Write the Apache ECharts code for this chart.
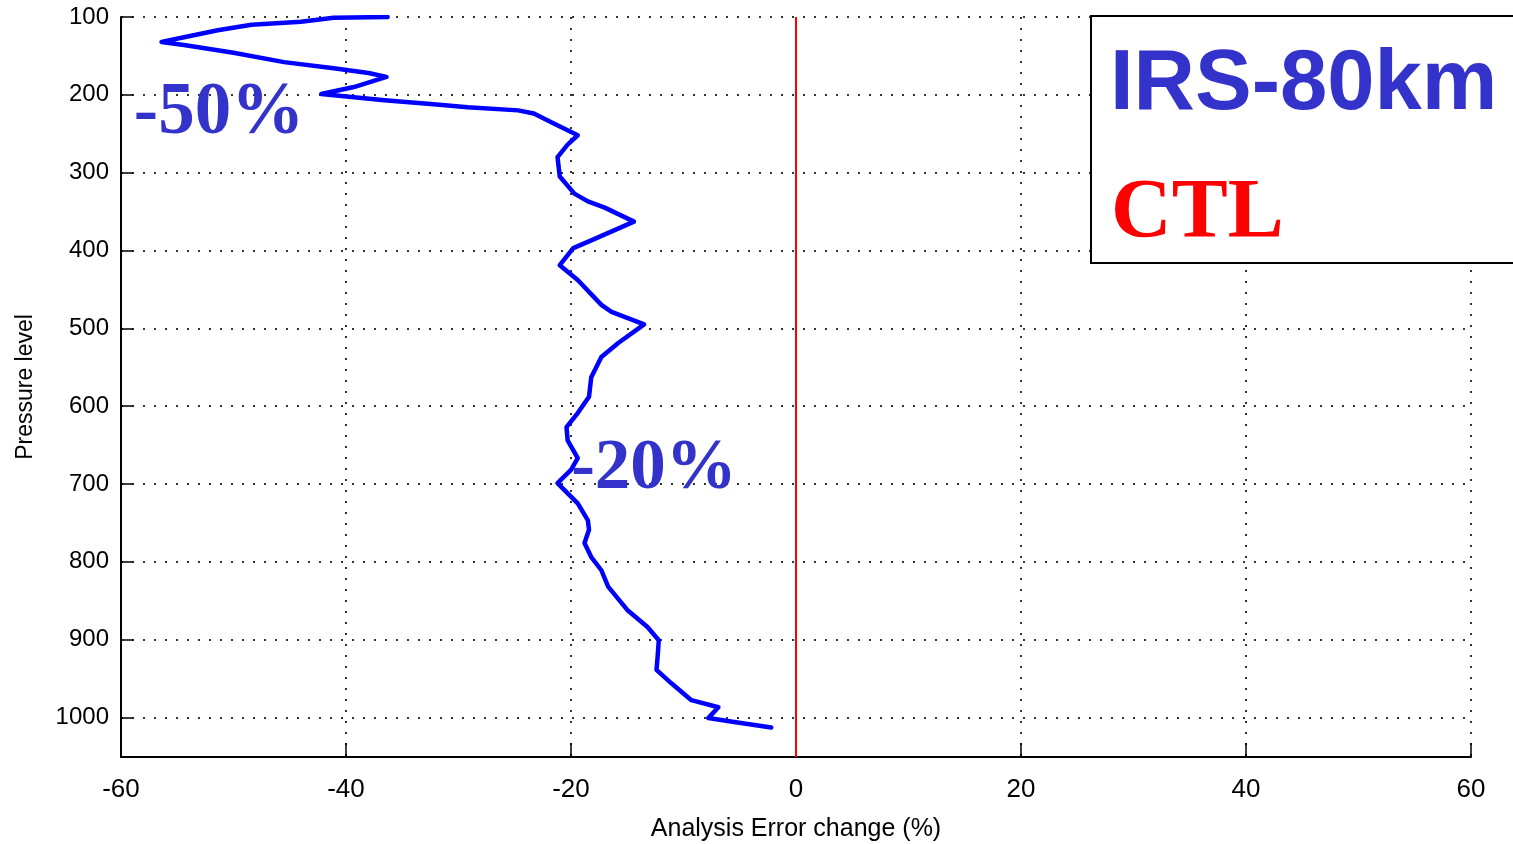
<!DOCTYPE html>
<html>
<head>
<meta charset="utf-8">
<script src="https://cdn.jsdelivr.net/npm/echarts@6/dist/echarts.min.js"></script>
<style>
html,body{margin:0;padding:0;background:#fff;}
#chart{width:1513px;height:844px;}
</style>
</head>
<body>
<div id="chart"></div>
<script>
// Pressure levels (hPa) and analysis error change (%)
var pressure = [100,101,106,110,117,126,132,136,146,158,166,172,177,190,199,207,212,216,220,224,235,252,264,280,305,327,337,345,363,387,397,419,438,470,479,495,519,537,563,588,609,627,644,667,682,699,725,747,759,776,794,811,832,862,884,901,922,939,956,978,987,1001,1006,1013];
var errorChange = [-36.3,-41.1,-44,-48.4,-51.4,-54.4,-56.4,-54.4,-50,-45.5,-41.1,-38,-36.4,-39.3,-42.2,-36.6,-32.2,-29.2,-24.7,-23.3,-21.8,-19.4,-20.3,-21.2,-21,-19.7,-18.5,-17,-14.4,-18.2,-19.8,-21,-19.4,-17.3,-16.4,-13.5,-15.8,-17.3,-18.2,-18.4,-19.4,-20.4,-20.3,-19.4,-20,-21.2,-19.4,-18.5,-18.4,-18.8,-18.2,-17.3,-16.7,-15,-13.2,-12.2,-12.3,-12.4,-11.1,-9.3,-6.9,-7.8,-5.5,-2.2];
var xTicks = [-60,-40,-20,0,20,40,60];
var yTicks = [100,200,300,400,500,600,700,800,900,1000];
var ctlValue = 0;
var annotations = ['-50%','-20%'];
var boxTitle = 'IRS-80km';
var boxSub = 'CTL';

var seriesData = pressure.map(function(p,i){ return [errorChange[i], p]; });

var chart = echarts.init(document.getElementById('chart'), null, {renderer:'canvas'});
var gridDot = {type:[2,9], color:'#333', width:2};
var option = {
  animation:false,
  backgroundColor:'#fff',
  grid:{left:121, right:42, top:17, bottom:87, containLabel:false, outerBoundsMode:'none'},
  xAxis:{
    type:'value', min:xTicks[0], max:xTicks[xTicks.length-1], interval:20,
    position:'bottom',
    axisLine:{show:true, onZero:false, lineStyle:{color:'#000', width:2}},
    axisTick:{show:true, inside:true, length:14, lineStyle:{color:'#000', width:1.5}},
    axisLabel:{fontSize:26, color:'#000', margin:20, fontFamily:'"Liberation Sans", Arial, sans-serif'},
    splitLine:{show:true, lineStyle:gridDot},
    name:'Analysis Error change (%)', nameLocation:'middle', nameGap:60,
    nameTextStyle:{fontSize:25, color:'#000', fontFamily:'"Liberation Sans", Arial, sans-serif'}
  },
  yAxis:{
    type:'value', inverse:true, min:yTicks[0], max:1051, interval:100,
    axisLine:{show:true, onZero:false, lineStyle:{color:'#000', width:2}},
    axisTick:{show:true, inside:true, length:12, lineStyle:{color:'#000', width:1.5}},
    axisLabel:{fontSize:24, color:'#000', margin:12, showMaxLabel:false,
      fontFamily:'"Liberation Sans", Arial, sans-serif',
      formatter:function(v){ return yTicks.indexOf(v)>=0 ? String(v) : ''; }},
    splitLine:{show:true, lineStyle:gridDot},
    name:'Pressure level', nameLocation:'middle', nameGap:84,
    nameTextStyle:{fontSize:23, color:'#000', fontFamily:'"Liberation Sans", Arial, sans-serif'}
  },
  series:[{
    type:'line', data:seriesData, showSymbol:false, symbol:'none',
    lineStyle:{color:'#0000FF', width:4.5, join:'round', cap:'round'},
    z:5,
    markLine:{
      silent:true, symbol:['none','none'], label:{show:false},
      lineStyle:{color:'#FF0000', width:2, type:'solid'},
      data:[{xAxis:ctlValue}]
    }
  }],
  graphic:[
    {type:'text', z:20, style:{text:annotations[0], x:219, y:114, align:'center', verticalAlign:'middle', textAlign:'center', textVerticalAlign:'middle', font:'bold 73px "Liberation Serif", "Times New Roman", serif', fill:'#3333CC'}},
    {type:'text', z:20, style:{text:annotations[1], x:654, y:470, align:'center', verticalAlign:'middle', textAlign:'center', textVerticalAlign:'middle', font:'bold 71px "Liberation Serif", "Times New Roman", serif', fill:'#3333CC'}},
    {type:'rect', z:20, shape:{x:1091, y:16, width:440, height:247}, style:{fill:'#fff', stroke:'#000', lineWidth:2}},
    {type:'text', z:21, style:{text:boxTitle, x:1110, y:86, align:'left', verticalAlign:'middle', textAlign:'left', textVerticalAlign:'middle', font:'bold 85px "Liberation Sans", Arial, sans-serif', fill:'#3333CC'}},
    {type:'text', z:21, style:{text:boxSub, x:1111, y:215, align:'left', verticalAlign:'middle', textAlign:'left', textVerticalAlign:'middle', font:'bold 84px "Liberation Serif", "Times New Roman", serif', fill:'#FF0000'}}
  ]
};
chart.setOption(option);
</script>
</body>
</html>
